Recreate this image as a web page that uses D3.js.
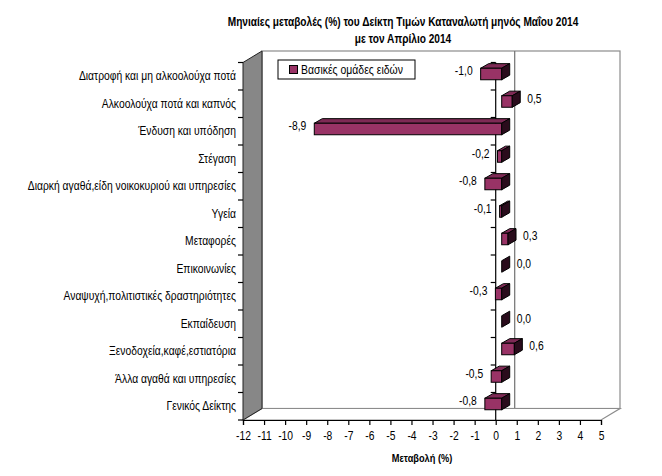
<!DOCTYPE html>
<html><head><meta charset="utf-8">
<script src="https://cdn.jsdelivr.net/npm/d3@7"></script>
<style>
html,body{margin:0;padding:0;background:#fff;}
svg{display:block;}
text{font-family:"Liberation Sans",Arial,sans-serif;}
</style></head>
<body>
<svg id="chart" width="662" height="476"></svg>
<script>
const titleLines = ["Μηνιαίες μεταβολές (%) του Δείκτη Τιμών Καταναλωτή μηνός Μαΐου 2014", "με τον Απρίλιο 2014"];
const categories = [
  "Διατροφή και μη αλκοολούχα ποτά",
  "Αλκοολούχα ποτά και καπνός",
  "Ένδυση και υπόδηση",
  "Στέγαση",
  "Διαρκή αγαθά,είδη νοικοκυριού και υπηρεσίες",
  "Υγεία",
  "Μεταφορές",
  "Επικοινωνίες",
  "Αναψυχή,πολιτιστικές δραστηριότητες",
  "Εκπαίδευση",
  "Ξενοδοχεία,καφέ,εστιατόρια",
  "Άλλα αγαθά και υπηρεσίες",
  "Γενικός Δείκτης"
];
const values = [-1.0, 0.5, -8.9, -0.2, -0.8, -0.1, 0.3, 0.0, -0.3, 0.0, 0.6, -0.5, -0.8];
const xTickValues = [-12,-11,-10,-9,-8,-7,-6,-5,-4,-3,-2,-1,0,1,2,3,4,5];
const seriesName = "Βασικές ομάδες ειδών";
const xAxisTitle = "Μεταβολή (%)";

const svg = d3.select("#chart");
const fmt = d3.formatLocale({decimal:",", thousands:".", grouping:[3], currency:["","€"], minus:"-"}).format(".1f");

// condense text horizontally (narrow font look)
function narrow(sel, sx) {
  sel.each(function(){
    const t = d3.select(this);
    const px = +t.attr("x") || 0, py = +t.attr("y") || 0;
    t.attr("x", 0).attr("y", 0).attr("transform", `translate(${px},${py}) scale(${sx},1)`);
  });
}

// geometry
const x = d3.scaleLinear().domain([-12, 5]).range([243, 601]);
const y = d3.scaleBand().domain(categories).range([62.5, 420]).paddingInner(0).paddingOuter(0);
const DX = 19, DY = -11.5;           // depth of the 3D box
const BFX = 6, BDX = 8, BDY = -4.6;  // bar front offset and bar depth
const barH = 11.5;

const yTop = y.range()[0], yBot = y.range()[1];
const xL = x.range()[0], xR = x.range()[1];

// back wall
svg.append("rect").attr("x", xL+DX).attr("y", yTop+DY).attr("width", xR-xL).attr("height", yBot-yTop)
  .attr("fill","#fff").attr("stroke","#8c8c8c").attr("stroke-width",1.2);
// zero line on back wall
svg.append("line").attr("x1", x(0)+DX).attr("x2", x(0)+DX).attr("y1", yTop+DY).attr("y2", yBot+DY)
  .attr("stroke","#707070").attr("stroke-width",1.2);
// floor
svg.append("polygon").attr("points", [[xL,yBot],[xL+DX,yBot+DY],[xR+DX,yBot+DY],[xR,yBot]].map(p=>p.join(",")).join(" "))
  .attr("fill","#fff").attr("stroke","#8c8c8c").attr("stroke-width",1.2);
// left wall
svg.append("polygon").attr("points", [[xL,yTop],[xL+DX,yTop+DY],[xL+DX,yBot+DY],[xL,yBot]].map(p=>p.join(",")).join(" "))
  .attr("fill","#878787").attr("stroke","#222").attr("stroke-width",1);

// x axis
const xAxis = d3.axisBottom(x).tickValues(xTickValues).tickSize(5).tickPadding(6).tickFormat(d=>String(d));
const gx = svg.append("g").attr("transform", `translate(0,${yBot})`).call(xAxis);
gx.select(".domain").attr("stroke","#000").attr("stroke-width",1.2);
gx.selectAll(".tick line").attr("stroke","#000").attr("stroke-width",1.2);
gx.selectAll("text").attr("font-size", 12).attr("fill","#000")
  .style("font-family", '"Liberation Sans",Arial,sans-serif')
  .attr("transform","scale(0.86,1)");

// category axis on left wall (labels)
const bounds = d3.range(categories.length+1).map(i => yTop + i*y.bandwidth());
svg.append("g").selectAll("line").data(bounds).join("line")
  .attr("x1", xL-5).attr("x2", xL).attr("y1", d=>d).attr("y2", d=>d).attr("stroke","#000").attr("stroke-width",1.2);
svg.append("g").selectAll("text").data(categories).join("text")
  .attr("x", 236).attr("y", d => y(d)+y.bandwidth()/2).attr("dy","0.35em")
  .attr("text-anchor","end").attr("font-size",12).attr("fill","#000").text(d=>d)
  .call(narrow, 0.86);

// category axis line at zero
svg.append("line").attr("x1", x(0)).attr("x2", x(0)).attr("y1", yTop).attr("y2", yBot)
  .attr("stroke","#000").attr("stroke-width",1.2);
svg.append("g").selectAll("line").data(bounds.slice(0,-1)).join("line")
  .attr("x1", x(0)-5).attr("x2", x(0)).attr("y1", d=>d).attr("y2", d=>d).attr("stroke","#000").attr("stroke-width",1.2);

// bars
const data = categories.map((c,i)=>({c, v: values[i]}));
const bars = svg.append("g").selectAll("g").data(data).join("g");
const pts = a => a.map(p=>p.join(",")).join(" ");
bars.each(function(d){
  const g = d3.select(this);
  const x0 = x(Math.min(0,d.v)) + BFX, x1 = x(Math.max(0,d.v)) + BFX;
  const t = y(d.c) + y.bandwidth()/2 - 8, b = t + barH;
  if (x1 - x0 > 0.01) {
    g.append("polygon").attr("points", pts([[x0,t],[x0+BDX,t+BDY],[x1+BDX,t+BDY],[x1,t]]))
      .attr("fill","#7e2a55").attr("stroke","#000").attr("stroke-width",1).attr("stroke-linejoin","round");
    g.append("rect").attr("x", x0).attr("y", t).attr("width", x1-x0).attr("height", barH)
      .attr("fill","#993366").attr("stroke","#000").attr("stroke-width",1);
  }
  g.append("polygon").attr("points", pts([[x1,t],[x1+BDX,t+BDY],[x1+BDX,b+BDY],[x1,b]]))
    .attr("fill","#2a0c1c").attr("stroke","#000").attr("stroke-width",1).attr("stroke-linejoin","round");
});

// value labels
svg.append("g").selectAll("text").data(data).join("text")
  .attr("x", d => d.v < 0 ? x(d.v) + BFX - 8 : x(d.v) + BFX + 15)
  .attr("y", d => y(d.c) + y.bandwidth()/2 - 5).attr("dy","0.35em")
  .attr("text-anchor", d => d.v < 0 ? "end" : "start")
  .attr("font-size",12).attr("fill","#000").text(d => fmt(d.v))
  .call(narrow, 0.86);

// legend
const lg = svg.append("g");
lg.append("rect").attr("x",278).attr("y",60).attr("width",137).attr("height",19).attr("fill","#fff").attr("stroke","#000").attr("stroke-width",1);
lg.append("rect").attr("x",289.5).attr("y",65.5).attr("width",8).attr("height",8).attr("fill","#993366").attr("stroke","#000").attr("stroke-width",1);
lg.append("text").attr("x",301).attr("y",69.5).attr("dy","0.35em").attr("font-size",12).attr("fill","#000").text(seriesName)
  .call(narrow, 0.87);

// title
svg.append("g").selectAll("text").data(titleLines).join("text")
  .attr("x", 403).attr("y", (d,i)=> 26 + i*16.5).attr("text-anchor","middle")
  .attr("font-size",12).attr("font-weight","bold").attr("fill","#000").text(d=>d)
  .call(narrow, 0.845);

// axis title
svg.append("text").attr("x", 422).attr("y", 462).attr("text-anchor","middle")
  .attr("font-size",11).attr("font-weight","bold").attr("fill","#000").text(xAxisTitle)
  .call(narrow, 0.84);
</script>
</body></html>
